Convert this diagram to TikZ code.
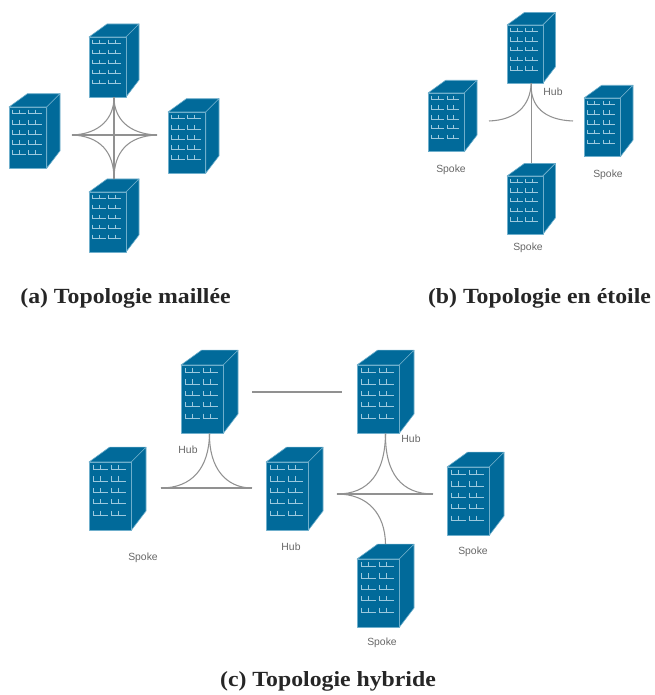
\documentclass[tikz,border=0pt]{standalone}
\usepackage{fontspec}
\setmainfont{Liberation Sans}
\newfontfamily\capfont[FakeStretch=1.1]{Liberation Serif}
\definecolor{bldgblue}{HTML}{016A9A}
\definecolor{bldgedge}{HTML}{6FAFCC}
\definecolor{winlight}{HTML}{9CC9DE}
\definecolor{wirecol}{HTML}{919191}
\definecolor{labelcol}{HTML}{666666}
\tikzset{
  face/.style={fill=bldgblue,draw=bldgedge,line width=0.45pt,line join=round},
  windowmark/.style={draw=winlight,line width=0.45pt},
  wire/.style={draw=wirecol,line width=0.8pt},
  netlabel/.style={text=labelcol,font=\fontsize{7.8}{9}\selectfont,inner sep=0pt},
  caption/.style={font=\capfont\bfseries\fontsize{16.2}{18}\selectfont,text=black!85,inner sep=0pt},
  anchorbox/.style={inner sep=0pt,minimum width=37.5pt,minimum height=54.75pt,transform shape},
}
\newcommand{\bldg}[4]{%
  \begin{scope}[shift={(#2,#3)},scale=#4]
    \path[face] (0,0) -- (18,-13) -- (50,-13) -- (37,0) -- cycle;
    \path[face] (37,0) -- (50,-13) -- (50,43) -- (37,60) -- cycle;
    \path[face] (0,0) rectangle (37,60);
    \foreach \r in {0,...,4}{
      \foreach \c in {3.7,10.3,19.3,25.9}{
        \draw[windowmark] ({\c},{2.6+10*\r}) -- ({\c},{6.5+10*\r}) -- ({\c+6.2},{6.5+10*\r});
      }
    }
    \node[anchorbox] (#1) at (25,23.5) {};
  \end{scope}%
}
\begin{document}
\begin{tikzpicture}[x=0.75pt,y=-0.75pt]
\useasboundingbox (0,0) rectangle (655,695);
% (a)
\bldg{aT}{89}{37}{1}
\bldg{aL}{9}{107}{1.02}
\bldg{aR}{168}{112}{1.02}
\bldg{aB}{89}{192}{1}
\coordinate (aW) at (72,135);
\coordinate (aE) at (157,135);
\draw[wire] (aT.south) -- (aB.north);
\draw[wire] (aW) -- (aE);
\draw[wire] (aT.south) .. controls (114,118) and (100,134) .. (aW);
\draw[wire] (aT.south) .. controls (114,118) and (128,134) .. (aE);
\draw[wire] (aB.north) .. controls (114,152) and (100,136) .. (aW);
\draw[wire] (aB.north) .. controls (114,152) and (128,136) .. (aE);
% (b)
\bldg{bT}{507}{25}{0.97}
\bldg{bL}{428}{93}{0.98}
\bldg{bR}{584}{98}{0.98}
\bldg{bB}{507}{176}{0.97}
\coordinate (bW) at (489,121);
\coordinate (bE) at (573,121);
\draw[wire] (bT.south) -- (bB.north);
\draw[wire] (bT.south) .. controls (530,106) and (516,120) .. (bW);
\draw[wire] (bT.south) .. controls (530,106) and (544,120) .. (bE);
\node[netlabel] (bh) at (553,92) {Hub};
\node[netlabel] (bs1) at (451,170) {Spoke};
\node[netlabel] (bs2) at (608,175) {Spoke};
\node[netlabel] (bs3) at (528,248) {Spoke};
% (c)
\bldg{cA}{181}{365}{1.14}
\bldg{cB}{357}{365}{1.14}
\bldg{cL}{89}{462}{1.14}
\bldg{cM}{266}{462}{1.14}
\bldg{cR}{447}{467}{1.14}
\bldg{cS}{357}{559}{1.14}
\coordinate (cG) at (252,392);
\coordinate (cH) at (342,392);
\draw[wire] (cG) -- (cH);
\coordinate (cW) at (161,488);
\coordinate (cE) at (252,488);
\draw[wire] (cW) -- (cE);
\draw[wire] (cA.south) .. controls (209,468) and (192,488) .. (cW);
\draw[wire] (cA.south) .. controls (209,468) and (226,488) .. (cE);
\coordinate (dW) at (337,494);
\coordinate (dE) at (433,494);
\draw[wire] (dW) -- (dE);
\draw[wire] (cB.south) .. controls (385,474) and (368,494) .. (dW);
\draw[wire] (cB.south) .. controls (385,474) and (402,494) .. (dE);
\draw[wire] (cS.north) .. controls (385,514) and (368,494) .. (dW);
\node[netlabel] (ch1) at (188,450) {Hub};
\node[netlabel] (cs1) at (143,558) {Spoke};
\node[netlabel] (ch2) at (291,547) {Hub};
\node[netlabel] (ch3) at (411,439) {Hub};
\node[netlabel] (cs2) at (473,552) {Spoke};
\node[netlabel] (cs3) at (382,643) {Spoke};
% captions
\node[caption] (capa) at (125.5,298) {(a) Topologie maillée};
\node[caption] (capb) at (539.5,298) {(b) Topologie en étoile};
\node[caption] (capc) at (328,681) {(c) Topologie hybride};
\end{tikzpicture}
\end{document}
